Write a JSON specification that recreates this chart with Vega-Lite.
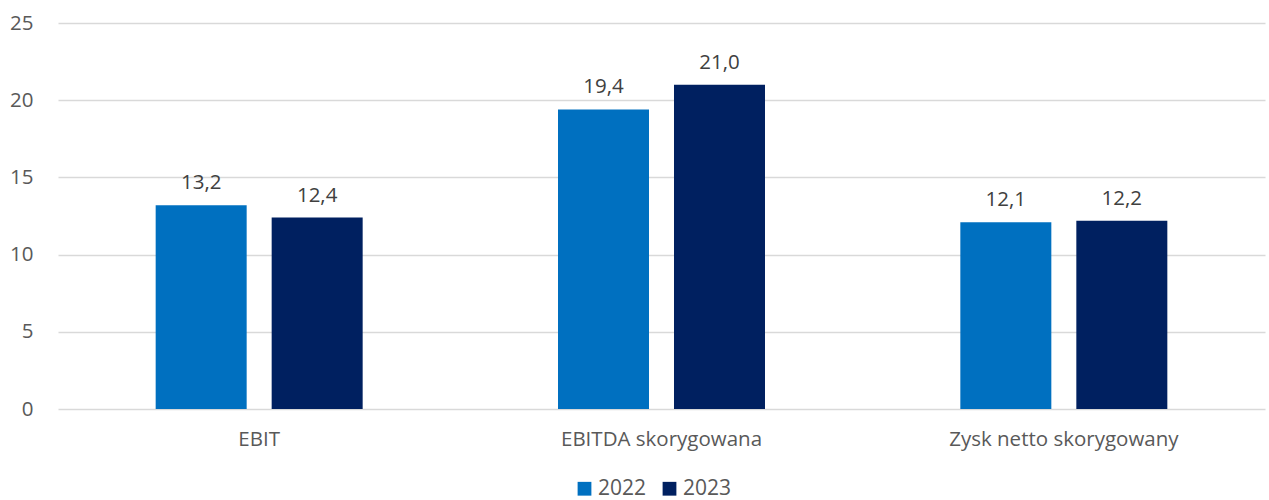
{
  "$schema": "https://vega.github.io/schema/vega-lite/v6.json",
  "width": 1207,
  "height": 386,
  "autosize": {"type": "none"},
  "padding": {"left": 58, "top": 23, "right": 4, "bottom": 91},
  "config": {
    "locale": {"number": {"decimal": ",", "thousands": " ", "grouping": [3], "currency": ["", " zł"]}},
    "font": "Open Sans",
    "view": {"stroke": null},
    "axis": {"labelFont": "Open Sans", "labelColor": "#595959", "labelFontSize": 20.5, "labelLimit": 0}
  },
  "data": {
    "values": [
      {"kategoria": "EBIT", "rok": "2022", "wartosc": 13.2},
      {"kategoria": "EBIT", "rok": "2023", "wartosc": 12.4},
      {"kategoria": "EBITDA skorygowana", "rok": "2022", "wartosc": 19.4},
      {"kategoria": "EBITDA skorygowana", "rok": "2023", "wartosc": 21.0},
      {"kategoria": "Zysk netto skorygowany", "rok": "2022", "wartosc": 12.1},
      {"kategoria": "Zysk netto skorygowany", "rok": "2023", "wartosc": 12.2}
    ]
  },
  "encoding": {
    "x": {
      "field": "kategoria", "type": "nominal", "sort": null,
      "scale": {"paddingInner": 0, "paddingOuter": 0},
      "axis": {"title": null, "labelAngle": 0, "ticks": false, "domain": false, "labelPadding": 20}
    },
    "xOffset": {
      "field": "rok", "type": "nominal",
      "scale": {"paddingInner": 0.2155, "paddingOuter": 0.842}
    },
    "y": {
      "field": "wartosc", "type": "quantitative",
      "scale": {"domain": [0, 25], "nice": false},
      "axis": {"title": null, "values": [0, 5, 10, 15, 20, 25], "ticks": false, "domain": false, "labelPadding": 25, "gridColor": "#d9d9d9", "gridWidth": 1.5, "format": "d"}
    }
  },
  "layer": [
    {
      "mark": {"type": "bar"},
      "encoding": {
        "color": {
          "field": "rok", "type": "nominal",
          "scale": {"domain": ["2022", "2023"], "range": ["#0070C0", "#002060"]},
          "legend": {"title": null, "orient": "none", "legendX": 516, "legendY": 455, "direction": "horizontal", "symbolType": "square", "symbolSize": 190, "labelFontSize": 21, "labelColor": "#595959", "labelFont": "Open Sans", "columnPadding": 12, "labelOffset": 3}
        }
      }
    },
    {
      "mark": {"type": "text", "baseline": "bottom", "dy": -12, "fontSize": 20.5, "color": "#404040", "font": "Open Sans"},
      "encoding": {
        "text": {"field": "wartosc", "type": "quantitative", "format": ".1f"}
      }
    }
  ]
}
